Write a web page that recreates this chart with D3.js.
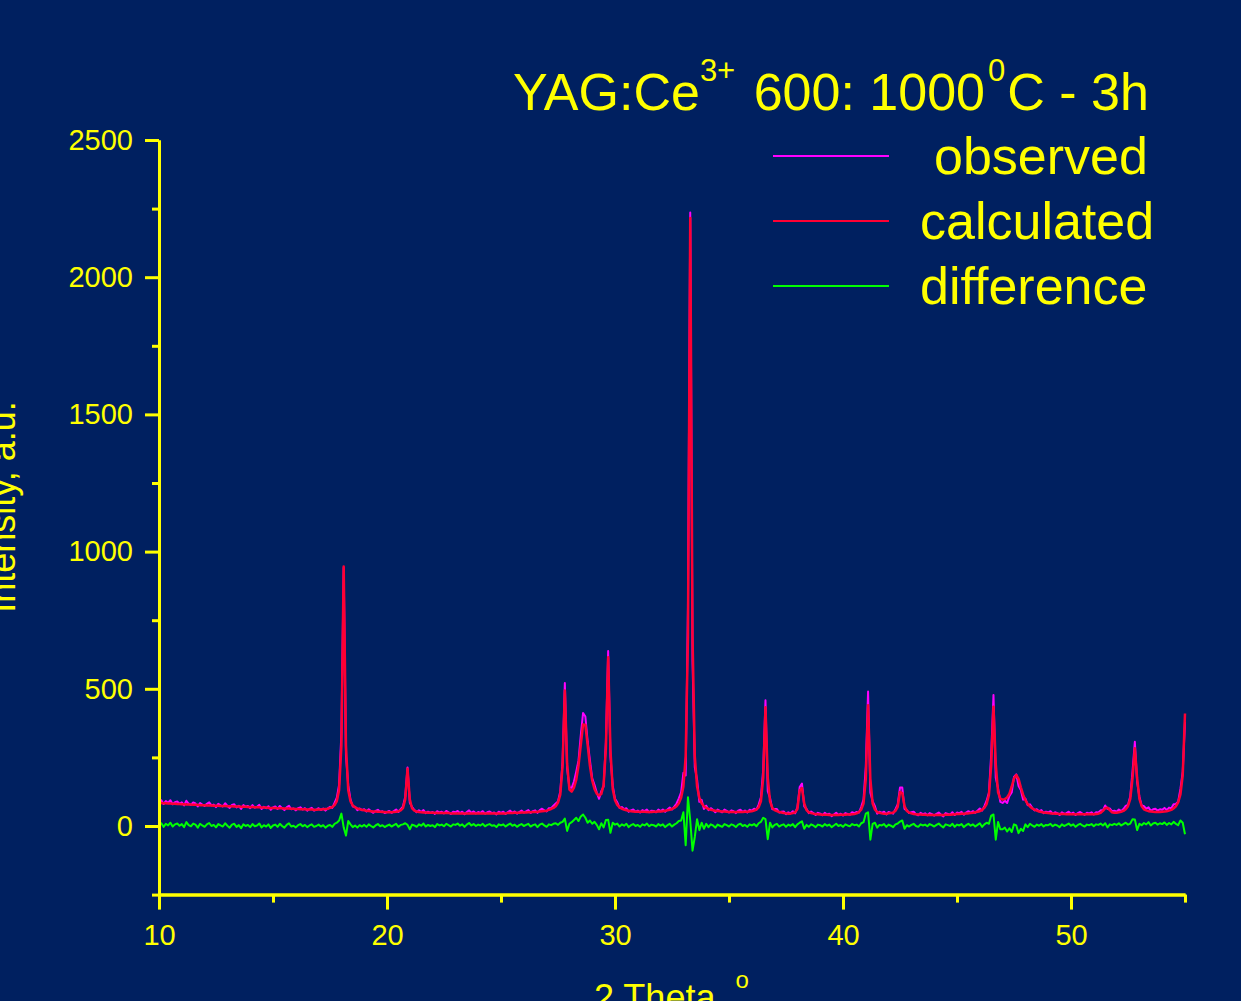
<!DOCTYPE html>
<html>
<head>
<meta charset="utf-8">
<script src="https://cdn.jsdelivr.net/npm/d3@7"></script>
<style>
  body{margin:0;background:#002060;}
  text{font-family:"Liberation Sans",Arial,sans-serif;fill:#ffff00;}
</style>
</head>
<body>
<div id="viz-container"></div>
<script>
// scan: first 2 theta and step (deg)
let thetaStart = 10;
let thetaStep = 0.1;

// one line per degree: 10.0 ... 10.9, 11.0 ... , last value is 55.0
let observed = [
  88,94,80,91,84,94,79,87,89,81,
  86,75,92,81,77,86,82,71,84,78,
  73,81,86,75,78,69,81,75,71,83,
  73,66,77,79,68,74,62,76,70,73,
  65,76,67,70,77,62,70,65,72,59,
  68,71,62,73,65,58,68,74,61,64,
  57,65,68,60,65,56,62,66,56,59,
  65,58,64,56,64,70,66,84,103,151,
  338,941,257,148,96,71,70,58,64,57,
  61,53,61,54,48,55,59,51,54,47,
  51,55,48,54,60,51,61,71,107,213,
  85,69,58,50,57,51,58,47,52,48,
  51,44,54,49,52,46,55,50,44,52,
  50,55,47,52,43,51,57,48,53,46,
  51,48,54,45,50,53,47,49,42,52,
  48,52,44,51,56,48,53,45,51,56,
  49,53,58,48,54,57,48,58,63,57,
  53,65,65,74,82,89,126,233,521,209,
  141,139,162,198,238,331,412,399,308,239,
  174,150,122,99,127,144,305,638,252,147,
  99,86,66,69,61,65,52,57,60,52,
  56,49,58,54,60,50,56,55,50,60,
  54,60,52,60,67,60,71,82,101,123,
  194,184,796,2236,601,214,169,88,95,62,
  74,58,65,59,50,60,55,50,60,55,
  49,57,54,47,56,59,51,56,49,59,
  56,63,59,78,105,205,458,127,102,61,
  62,62,49,52,53,43,50,46,54,46,
  68,142,155,72,62,47,53,47,40,48,
  45,39,48,42,45,36,42,48,40,45,
  38,47,44,41,50,47,51,49,70,96,
  216,490,121,90,72,45,52,48,52,42,
  51,48,45,61,79,140,140,62,58,47,
  50,52,43,39,48,43,46,39,47,43,
  38,44,49,41,35,47,44,41,50,40,
  49,46,52,41,49,54,48,54,48,56,
  64,56,72,92,121,260,477,176,138,88,
  84,92,84,110,122,179,188,146,131,96,
  100,76,79,66,57,61,54,58,47,52,
  50,54,45,50,47,40,50,44,47,52,
  44,49,40,47,51,45,41,48,46,50,
  42,50,49,57,57,75,62,64,53,56,
  52,60,54,62,73,77,108,200,307,160,
  107,75,72,63,68,55,61,63,56,61,
  59,66,58,67,65,79,80,89,135,197,
  380
];

let calculated = [
  84,84,83,83,82,82,81,81,80,80,
  79,79,78,78,78,77,77,77,76,76,
  76,75,75,75,74,74,74,73,73,73,
  72,72,72,71,71,71,70,70,70,69,
  69,69,68,68,68,67,67,67,66,66,
  66,66,65,65,65,64,64,64,63,63,
  62,62,61,61,61,60,60,60,59,59,
  60,60,61,62,63,66,69,76,91,131,
  293,946,292,130,90,75,68,64,61,59,
  57,56,55,54,53,53,52,52,51,51,
  50,50,50,51,52,54,57,65,97,209,
  97,64,56,53,51,50,49,49,48,48,
  48,48,47,47,47,47,47,47,46,46,
  46,46,46,46,46,46,46,46,46,46,
  46,46,46,46,46,46,46,46,46,46,
  46,46,46,47,47,47,48,48,48,49,
  49,49,50,50,51,51,52,53,54,55,
  56,59,62,66,72,85,114,218,494,227,
  133,125,140,168,220,296,370,369,296,219,
  166,135,118,111,117,149,283,615,277,135,
  94,77,68,63,60,57,56,54,53,52,
  52,52,52,52,51,51,51,52,52,53,
  53,54,56,57,59,62,66,72,83,103,
  144,254,691,2216,691,254,144,103,83,72,
  66,62,59,57,56,55,54,53,53,52,
  51,51,51,51,51,51,51,52,52,53,
  54,56,60,68,90,175,433,175,90,66,
  58,54,51,49,47,46,45,45,47,50,
  62,130,138,82,58,50,47,45,44,43,
  42,41,41,41,40,40,40,40,40,41,
  41,41,42,42,43,44,46,51,60,82,
  171,440,171,82,60,51,48,46,45,45,
  46,47,49,55,70,124,120,72,55,49,
  46,44,43,42,42,41,41,40,40,40,
  40,40,40,40,40,41,41,41,42,43,
  44,44,45,45,46,46,47,48,50,52,
  54,59,66,80,113,222,435,226,123,100,
  96,98,104,118,144,173,186,172,141,114,
  94,80,71,64,60,56,53,51,49,48,
  47,46,46,45,45,44,44,44,43,43,
  43,43,43,43,43,43,43,43,43,43,
  43,44,45,48,55,65,67,58,50,48,
  48,50,52,55,61,72,99,175,283,175,
  99,72,61,57,54,53,52,51,51,51,
  52,53,54,56,59,64,72,86,115,185,
  410
];

let difference = [
  4,10,-3,8,2,12,-2,6,9,1,
  7,-4,14,3,-1,9,5,-6,8,2,
  -3,6,11,0,4,-5,7,2,-2,10,
  1,-6,5,8,-3,3,-8,6,0,4,
  -4,7,-1,2,9,-5,3,-2,6,-7,
  2,5,-3,8,0,-6,4,10,-2,1,
  -5,3,7,-1,4,-4,2,6,-3,0,
  5,-2,3,-6,1,4,-3,8,12,20,
  45,-5,-35,18,6,-4,2,-6,3,-2,
  4,-3,6,0,-5,2,7,-1,3,-4,
  1,5,-2,3,8,-3,4,6,10,4,
  -12,5,2,-3,6,1,9,-2,4,0,
  3,-4,7,2,5,-1,8,3,-2,6,
  4,9,1,6,-3,5,11,2,7,0,
  5,2,8,-1,4,7,1,3,-4,6,
  2,6,-2,4,9,1,5,-3,3,7,
  0,4,8,-2,3,6,-4,5,9,2,
  -3,6,3,8,10,4,12,15,27,-18,
  8,14,22,30,18,35,42,30,12,20,
  8,15,4,-12,10,-5,22,23,-25,12,
  5,9,-2,6,1,8,-4,3,7,0,
  4,-3,6,2,9,-1,5,3,-2,7,
  1,6,-4,3,8,-2,5,10,18,20,
  50,-70,105,20,-90,-40,25,-15,12,-10,
  8,-4,6,2,-6,5,1,-3,7,3,
  -2,6,3,-4,5,8,0,4,-3,6,
  2,7,-1,10,15,30,25,-48,12,-5,
  4,8,-2,3,6,-3,5,1,7,-4,
  6,12,17,-10,4,-3,6,2,-4,5,
  3,-2,7,1,5,-4,2,8,0,4,
  -3,6,2,-1,7,3,5,-2,10,14,
  45,50,-50,8,12,-6,4,2,7,-3,
  5,1,-4,6,9,16,20,-10,3,-2,
  4,8,0,-3,6,2,5,-1,7,3,
  -2,4,9,1,-5,6,3,0,8,-3,
  5,2,7,-4,3,8,1,6,-2,4,
  10,-3,6,12,8,38,42,-50,15,-12,
  -12,-6,-20,-8,-22,6,2,-26,-10,-18,
  6,-4,8,2,-3,5,1,7,-2,4,
  3,8,-1,5,2,-4,6,0,4,9,
  1,6,-3,4,8,2,-2,5,3,7,
  -1,6,4,9,2,10,-5,6,3,8,
  4,10,2,7,12,5,9,25,24,-15,
  8,3,11,6,14,2,9,12,5,10,
  7,13,4,11,6,15,8,3,20,12,
  -30
];

let xMajorTicks = [10,20,30,40,50];
let xMinorTicks = [15,25,35,45,55];
let yMajorTicks = [0,500,1000,1500,2000,2500];
let yMinorTicks = [-250,250,750,1250,1750,2250];
let seriesNames = ["observed","calculated","difference"];

//create canvas
let viz = d3.select("#viz-container")
    .append("svg")
    .attr("width",1241)
    .attr("height",1001)
;
viz.append("rect")
  .attr("width",1241)
  .attr("height",1001)
  .attr("fill","#002060")
;

let x = d3.scaleLinear().domain([10,55]).range([159,1185]);
let y = d3.scaleLinear().domain([-250,2500]).range([894.6,140]);

function color(name){
  if(name=="observed"){
    return "#ff00ff";
  }else if(name=="calculated"){
    return "#ff0033";
  }else if(name=="difference"){
    return "#00ff00";
  }
}

function lineWidth(name){
  if(name=="calculated"){
    return 2.5;
  }
  return 2;
}

let series = [
  {name:"observed", values:observed},
  {name:"calculated", values:calculated},
  {name:"difference", values:difference}
];

let line = d3.line()
  .x(function(d,i){ return x(thetaStart + i*thetaStep); })
  .y(function(d){ return y(d); })
;

viz.selectAll(".trace").data(series).enter()
  .append("path")
    .attr("class","trace")
    .attr("d",function(d){ return line(d.values); })
    .attr("fill","none")
    .attr("stroke",function(d){ return color(d.name); })
    .attr("stroke-width",function(d){ return lineWidth(d.name); })
    .attr("stroke-linejoin","round")
;

// axes, major and minor ticks
function styleAxis(g){
  g.attr("font-family",null).attr("font-size",null);
  g.selectAll("path,line").attr("stroke","#ffff00").attr("stroke-width",3);
  g.selectAll("text").attr("fill","#ffff00").style("font-size","29px");
}

viz.append("g")
  .attr("transform","translate(159,0)")
  .call(d3.axisLeft(y).tickValues(yMinorTicks).tickSize(7).tickSizeOuter(0).tickFormat(""))
  .call(styleAxis)
;
viz.append("g")
  .attr("transform","translate(159,0)")
  .call(d3.axisLeft(y).tickValues(yMajorTicks).tickSize(14).tickSizeOuter(0).tickPadding(12).tickFormat(d3.format("d")))
  .call(styleAxis)
;
viz.append("g")
  .attr("transform","translate(0,"+y(-250)+")")
  .call(d3.axisBottom(x).tickValues(xMinorTicks).tickSize(8).tickSizeOuter(0).tickFormat(""))
  .call(styleAxis)
;
viz.append("g")
  .attr("transform","translate(0,"+y(-250)+")")
  .call(d3.axisBottom(x).tickValues(xMajorTicks).tickSize(15).tickSizeOuter(0).tickPadding(15))
  .call(styleAxis)
;

// axis titles (cut by the page edge, as in the original slide)
viz.append("text")
  .attr("transform","translate(15,507) rotate(-90)")
  .attr("text-anchor","middle")
  .style("font-size","36px")
  .text("Intensity, a.u.")
;
let xTitle = viz.append("text")
  .attr("x",594)
  .attr("y",1010)
  .style("font-size","36px")
;
xTitle.append("tspan").text("2 Theta, ");
xTitle.append("tspan").style("font-size","24px").attr("dy",-22).text("o");

// title
let title = viz.append("text")
  .attr("x",513)
  .attr("y",110)
  .style("font-size","52px")
;
title.append("tspan").text("YAG:Ce");
title.append("tspan").style("font-size","31px").attr("dy",-29).text("3+");
title.append("tspan").attr("dy",29).attr("dx",4).text(" 600: 1000");
title.append("tspan").style("font-size","31px").attr("dy",-29).attr("dx",3).text("0");
title.append("tspan").attr("dy",29).attr("dx",2).text("C - 3h");

// legend
let legend = viz.selectAll(".legend").data(seriesNames).enter()
  .append("g")
    .attr("class","legend")
    .attr("transform",function(d,i){ return "translate(0,"+(156+i*65)+")"; })
;
legend.append("line")
  .attr("x1",773)
  .attr("x2",889)
  .attr("stroke",function(d){ return color(d); })
  .attr("stroke-width",2)
;
legend.append("text")
  .attr("x",function(d){ return d=="observed" ? 934 : 920; })
  .attr("y",18)
  .style("font-size","52px")
  .text(function(d){ return d; })
;
</script>
</body>
</html>
